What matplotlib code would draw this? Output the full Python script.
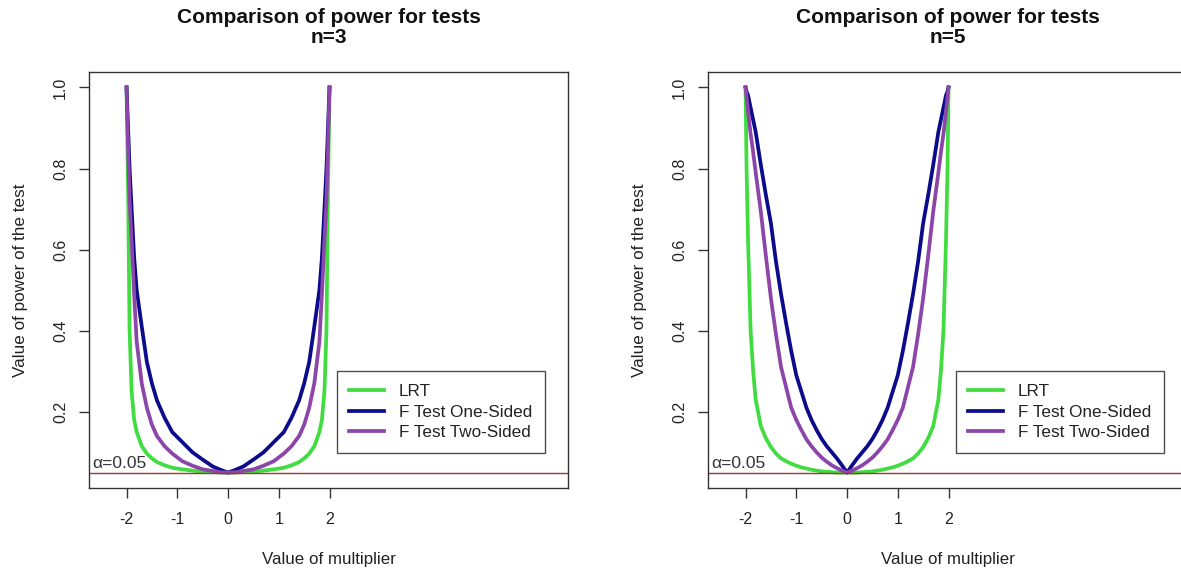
import matplotlib
matplotlib.use('Agg')
import matplotlib.pyplot as plt

plt.rcParams['font.family'] = ['Liberation Sans', 'DejaVu Sans']

# multiplier grid, n=3
x_n3 = [-2.0, -1.97, -1.94, -1.9, -1.85, -1.8, -1.7, -1.6, -1.5, -1.4, -1.25, -1.1,
        -0.9, -0.7, -0.5, -0.3, -0.15, 0.0,
        0.15, 0.3, 0.5, 0.7, 0.9, 1.1, 1.25, 1.4, 1.5, 1.6, 1.7, 1.8, 1.85, 1.9,
        1.94, 1.97, 2.0]
lrt_n3 = [1.0, 0.75, 0.40, 0.25, 0.18, 0.150, 0.115, 0.097, 0.085, 0.076, 0.068, 0.062,
          0.058, 0.055, 0.052, 0.051, 0.050, 0.050,
          0.050, 0.051, 0.052, 0.055, 0.058, 0.062, 0.068, 0.076, 0.085, 0.097, 0.115,
          0.150, 0.18, 0.25, 0.40, 0.75, 1.0]
f1_n3 = [1.0, 0.90, 0.80, 0.70, 0.58, 0.50, 0.41, 0.323, 0.27, 0.228, 0.185, 0.150,
         0.125, 0.100, 0.082, 0.065, 0.057, 0.050,
         0.057, 0.065, 0.082, 0.100, 0.125, 0.150, 0.185, 0.228, 0.27, 0.323, 0.41,
         0.50, 0.58, 0.70, 0.80, 0.90, 1.0]
f2_n3 = [1.0, 0.85, 0.72, 0.62, 0.49, 0.372, 0.27, 0.21, 0.168, 0.140, 0.115, 0.097,
         0.078, 0.067, 0.058, 0.054, 0.051, 0.050,
         0.051, 0.054, 0.058, 0.067, 0.078, 0.097, 0.115, 0.140, 0.168, 0.21, 0.27,
         0.372, 0.49, 0.62, 0.72, 0.85, 1.0]

# multiplier grid, n=5
x_n5 = [-2.0, -1.98, -1.95, -1.9, -1.85, -1.8, -1.7, -1.6, -1.5, -1.4, -1.3, -1.2,
        -1.1, -1.0, -0.9, -0.8, -0.7, -0.6, -0.5, -0.4, -0.3, -0.2, -0.1, 0.0,
        0.1, 0.2, 0.3, 0.4, 0.5, 0.6, 0.7, 0.8, 0.9, 1.0, 1.1, 1.2, 1.3, 1.4, 1.5,
        1.6, 1.7, 1.8, 1.85, 1.9, 1.95, 1.98, 2.0]
lrt_n5 = [1.0, 0.80, 0.62, 0.40, 0.30, 0.23, 0.165, 0.135, 0.113, 0.097, 0.085, 0.078,
          0.072, 0.067, 0.063, 0.060, 0.057, 0.055, 0.053, 0.052, 0.051, 0.050, 0.050,
          0.050,
          0.050, 0.050, 0.051, 0.052, 0.053, 0.055, 0.057, 0.060, 0.063, 0.067, 0.072,
          0.078, 0.085, 0.097, 0.113, 0.135, 0.165, 0.23, 0.30, 0.40, 0.62, 0.80, 1.0]
f1_n5 = [1.0, 0.99, 0.98, 0.95, 0.92, 0.89, 0.81, 0.735, 0.665, 0.57, 0.49, 0.418,
         0.35, 0.29, 0.25, 0.21, 0.18, 0.155, 0.133, 0.115, 0.10, 0.085, 0.068, 0.050,
         0.068, 0.085, 0.10, 0.115, 0.133, 0.155, 0.18, 0.21, 0.25, 0.29, 0.35, 0.418,
         0.49, 0.57, 0.665, 0.735, 0.81, 0.89, 0.92, 0.95, 0.98, 0.99, 1.0]
f2_n5 = [1.0, 0.975, 0.94, 0.885, 0.84, 0.79, 0.695, 0.585, 0.48, 0.39, 0.31, 0.26,
         0.21, 0.18, 0.155, 0.132, 0.115, 0.10, 0.087, 0.077, 0.068, 0.061, 0.055, 0.050,
         0.055, 0.061, 0.068, 0.077, 0.087, 0.10, 0.115, 0.132, 0.155, 0.18, 0.21, 0.26,
         0.31, 0.39, 0.48, 0.585, 0.695, 0.79, 0.84, 0.885, 0.94, 0.975, 1.0]

alpha = 0.05
x_ticks = [-2, -1, 0, 1, 2]
y_ticks = [0.2, 0.4, 0.6, 0.8, 1.0]
labels = ['LRT', 'F Test One-Sided', 'F Test Two-Sided']
colors = ['#40DC40', '#0B0B8C', '#8C46AA']


def plot(ax, x, ys, n):
    for y, lab, c in zip(ys, labels, colors):
        ax.plot(x, y, color=c, linewidth=2.7, label=lab)
    ax.axhline(alpha, color='#A83232', linewidth=1.0)
    ax.text(-2.68, alpha + 0.003, 'α=0.05', fontsize=12.5, color='#333333',
            ha='left', va='bottom')

    ax.set_xlim(-2.74, 6.70)
    ax.set_ylim(0.012, 1.038)
    ax.set_xticks(x_ticks)
    ax.set_xticklabels([str(t) for t in x_ticks])
    ax.set_yticks(y_ticks)
    ax.set_yticklabels([f'{t:.1f}' for t in y_ticks], rotation=90, va='center')
    ax.tick_params(axis='both', labelsize=11.5, length=7, width=1, color='#333333',
                   labelcolor='#222222')
    ax.tick_params(axis='x', pad=10)
    ax.tick_params(axis='y', pad=8)
    for s in ax.spines.values():
        s.set_color('#333333')
        s.set_linewidth(1.0)

    ax.set_title(f'Comparison of power for tests\nn={n}', fontsize=15, fontweight='bold',
                 pad=21, color='#111111', linespacing=1.05)
    ax.set_xlabel('Value of multiplier', fontsize=12.2, labelpad=18, color='#222222')
    ax.set_ylabel('Value of power of the test', fontsize=12.3, labelpad=18,
                  color='#222222')

    leg = ax.legend(loc='lower right', bbox_to_anchor=(0.952, 0.084), fontsize=12.3,
                    frameon=True, fancybox=False, edgecolor='#222222',
                    handlelength=2.0, handletextpad=0.9, labelspacing=0.33,
                    borderpad=0.75, borderaxespad=0.0)
    leg.get_frame().set_linewidth(1.0)
    for t in leg.get_texts():
        t.set_color('#222222')


def main():
    fig = plt.figure(figsize=(11.81, 5.73), dpi=100)
    ax1 = fig.add_axes([0.07536, 0.14834, 0.40559, 0.72600])
    ax2 = fig.add_axes([0.59949, 0.14834, 0.40559, 0.72600])

    plot(ax1, x_n3, [lrt_n3, f1_n3, f2_n3], 3)
    plot(ax2, x_n5, [lrt_n5, f1_n5, f2_n5], 5)

    fig.savefig('out.png', dpi=100)


if __name__ == "__main__":
    main()
